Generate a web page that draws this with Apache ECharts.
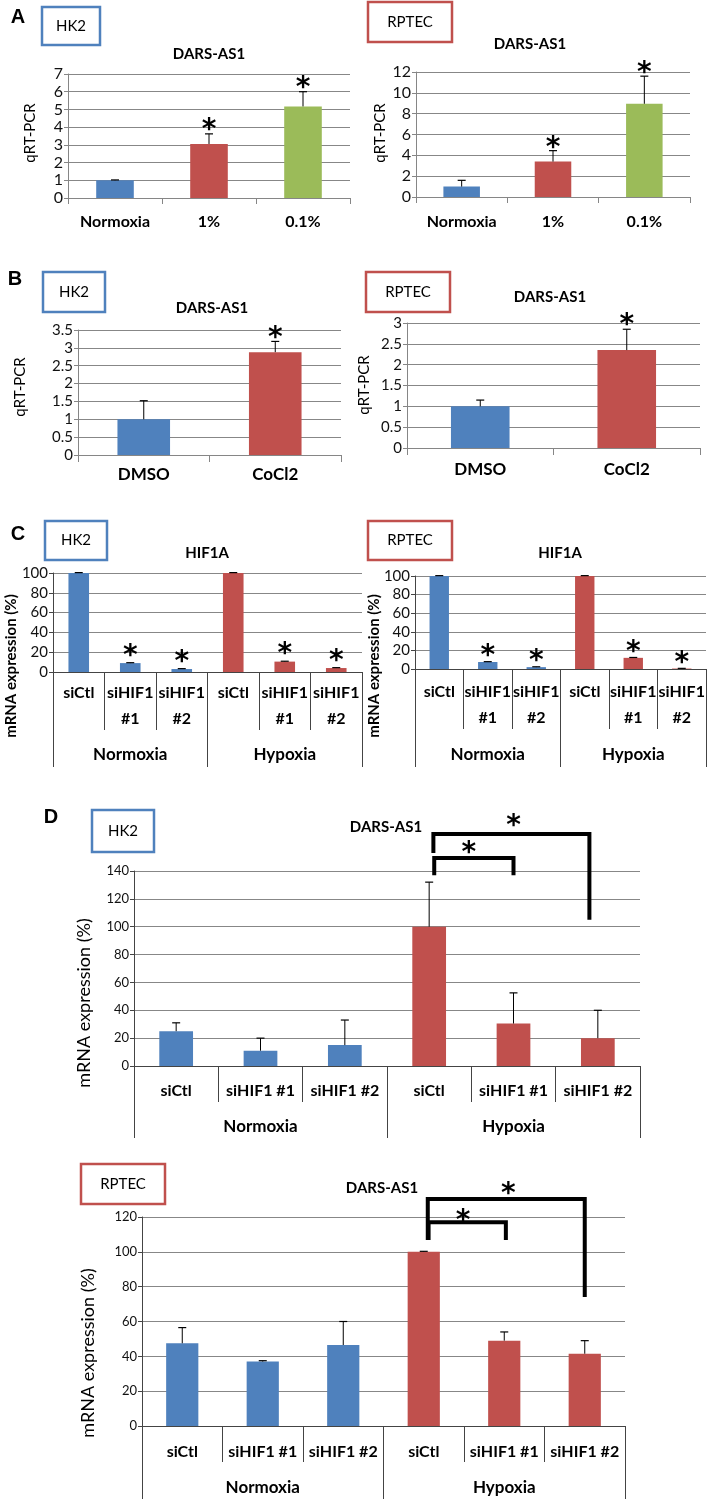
<!DOCTYPE html>
<html><head><meta charset="utf-8">
<script src="https://cdn.jsdelivr.net/npm/echarts@6/dist/echarts.min.js"></script>
<style>html,body{margin:0;padding:0;background:#fff}#c{width:709px;height:1499px}</style>
</head><body><div id="c"></div>
<script>
// ---------------- DATA ----------------
const catsA = ['Normoxia', '1%', '0.1%'];
const hk2A = [1.0, 3.05, 5.17];
const hk2A_sd = [0.02, 0.57, 0.83];
const rptecA = [1.0, 3.4, 8.95];
const rptecA_sd = [0.6, 1.05, 2.65];
const sigA = [false, true, true];

const catsB = ['DMSO', 'CoCl2'];
const hk2B = [1.0, 2.88];
const hk2B_sd = [0.52, 0.3];
const rptecB = [1.0, 2.35];
const rptecB_sd = [0.15, 0.5];
const sigB = [false, true];

const catsC = ['siCtl', 'siHIF1\n#1', 'siHIF1\n#2', 'siCtl', 'siHIF1\n#1', 'siHIF1\n#2'];
const groups = ['Normoxia', 'Hypoxia'];
const hk2C = [100, 9, 3, 100, 10.5, 4];
const hk2C_sd = [0.4, 0.4, 0.4, 0.4, 0.4, 0.4];
const rptecC = [100, 7.5, 2, 100, 12, 0.5];
const rptecC_sd = [0.4, 0.4, 0.4, 0.4, 0.4, 0.2];
const sigC = [false, true, true, false, true, true];

const catsD = ['siCtl', 'siHIF1 #1', 'siHIF1 #2', 'siCtl', 'siHIF1 #1', 'siHIF1 #2'];
const hk2D = [25, 11, 15, 100, 30.5, 20];
const hk2D_sd = [6, 9, 18, 32, 22, 20];
const rptecD = [47.5, 37, 46.5, 100, 49, 41.5];
const rptecD_sd = [9, 0.5, 13.5, 0.3, 5, 7.5];
const compD = [[3, 4], [3, 5]]; // significant comparisons (category index pairs)

// ---------------- STYLE / LAYOUT ----------------
const BLUE = '#4F81BD', RED = '#C0504D', GREEN = '#9BBB59';
const FONT = 'Lato, "Open Sans", sans-serif';
const STARFONT = '"DejaVu Sans", sans-serif';
const GRID_COLOR = '#878787';

// bracket geometry (value units, category offsets as fraction of band)
const bracketGeomHK2 = [
  {dxL: 0.06, dxR: 0, yL: 137, yTop: 149.3, yR: 137, star: [3, 0.47, 157.2]},
  {dxL: 0.05, dxR: -0.1, yL: 153, yTop: 166.5, yR: 105, star: [4, 0, 176.6]}
];
const bracketGeomRPTEC = [
  {dxL: 0.06, dxR: 0.02, yL: 106.8, yTop: 117, yR: 106.8, star: [3, 0.49, 121.1]},
  {dxL: 0.05, dxR: 0, yL: 106.8, yTop: 130.3, yR: 74, star: [4, 0.05, 136.6]}
];

const option = {animation: false, grid: [], xAxis: [], yAxis: [], series: [], graphic: []};

function starText(x, y) {
  return {type: 'text', x: x, y: y + 7, style: {text: '*', fontFamily: STARFONT, fontWeight: 'bold', fontSize: 28, fill: '#000', textAlign: 'center', textVerticalAlign: 'middle'}};
}

function addPanel(p) {
  const gi = option.grid.length;
  option.grid.push(Object.assign({containLabel: false}, p.grid));
  const xi = option.xAxis.length;
  option.xAxis.push({
    type: 'category', gridIndex: gi, data: p.cats, position: 'bottom',
    axisLine: {lineStyle: {color: p.axisColor, width: 1}},
    axisTick: {show: true, length: p.tickLen, lineStyle: {color: p.axisColor}},
    axisLabel: {interval: 0, margin: p.labelMargin, fontFamily: FONT, fontWeight: 'bold', fontSize: p.catFont, color: '#000', lineHeight: p.catLineHeight || 20}
  });
  if (p.groups) {
    option.xAxis.push({
      type: 'category', gridIndex: gi, data: p.groups, position: 'bottom',
      axisLine: {show: false},
      axisTick: {show: true, length: p.groupTickLen, lineStyle: {color: p.axisColor}},
      axisLabel: {interval: 0, margin: p.groupMargin, fontFamily: FONT, fontWeight: 'bold', fontSize: 17, color: '#000', lineHeight: 20}
    });
  }
  const yi = option.yAxis.length;
  option.yAxis.push({
    type: 'value', gridIndex: gi, min: 0, max: p.max, interval: p.interval,
    axisLine: {show: true, lineStyle: {color: p.yAxisColor || '#868686'}},
    axisTick: {show: true, length: 4, lineStyle: {color: p.yAxisColor || '#868686'}},
    splitLine: {show: true, lineStyle: {color: GRID_COLOR, width: 1}},
    axisLabel: {margin: 5, fontFamily: FONT, fontSize: p.tickFont, color: '#111'}
  });
  option.series.push({
    type: 'bar', xAxisIndex: xi, yAxisIndex: yi, barWidth: '40%',
    data: p.values.map((v, i) => ({value: v, itemStyle: {color: p.colors[i]}}))
  });
  // error bars (upper only)
  option.series.push({
    type: 'custom', xAxisIndex: xi, yAxisIndex: yi, clip: false, z: 5,
    encode: {x: 0, y: [1, 2]},
    data: p.values.map((v, i) => [i, v, v + p.sd[i]]),
    renderItem: function (params, api) {
      const b = api.coord([api.value(0), api.value(1)]);
      const t = api.coord([api.value(0), api.value(2)]);
      return {type: 'group', children: [
        {type: 'line', shape: {x1: b[0], y1: b[1], x2: t[0], y2: t[1]}, style: {stroke: '#000', lineWidth: 1}},
        {type: 'line', shape: {x1: t[0] - 4, y1: t[1], x2: t[0] + 4, y2: t[1]}, style: {stroke: '#000', lineWidth: 1.2}}
      ]};
    }
  });
  // significance stars
  if (p.sig) {
    const starData = [];
    p.values.forEach((v, i) => { if (p.sig[i]) starData.push([i, v + p.sd[i]]); });
    option.series.push({
      type: 'custom', xAxisIndex: xi, yAxisIndex: yi, clip: false, z: 6,
      encode: {x: 0, y: 1}, data: starData,
      renderItem: function (params, api) {
        const c = api.coord([api.value(0), api.value(1)]);
        return starText(c[0], c[1] - p.starGap);
      }
    });
  }
  // brackets
  if (p.brackets) {
    option.series.push({
      type: 'custom', xAxisIndex: xi, yAxisIndex: yi, clip: false, z: 6,
      encode: {x: 0, y: 1},
      data: p.comps.map(c => [c[0], p.values[c[0]]]),
      renderItem: function (params, api) {
        const comp = p.comps[params.dataIndex];
        const g = p.brackets[params.dataIndex];
        const bw = api.size([1, 0])[0];
        const xl = api.coord([comp[0], 0])[0] + g.dxL * bw;
        const xr = api.coord([comp[1], 0])[0] + g.dxR * bw;
        const yl = api.coord([comp[0], g.yL])[1];
        const yt = api.coord([comp[0], g.yTop])[1];
        const yr = api.coord([comp[1], g.yR])[1];
        const sx = api.coord([g.star[0], 0])[0] + g.star[1] * bw;
        const sy = api.coord([g.star[0], g.star[2]])[1];
        return {type: 'group', children: [
          {type: 'polyline', shape: {points: [[xl, yl], [xl, yt], [xr, yt], [xr, yr]]}, style: {stroke: '#000', lineWidth: 4, fill: null, lineJoin: 'miter'}},
          starText(sx, sy)
        ]};
      }
    });
  }
}

// Panel A
addPanel({grid: {left: 68, top: 74, width: 282, height: 124}, cats: catsA, values: hk2A, sd: hk2A_sd, sig: sigA,
  colors: [BLUE, RED, GREEN], max: 7, interval: 1, axisColor: '#868686', tickLen: 6, labelMargin: 14, catFont: 16, tickFont: 16, starGap: 10});
addPanel({grid: {left: 416, top: 72, width: 274, height: 125}, cats: catsA, values: rptecA, sd: rptecA_sd, sig: sigA,
  colors: [BLUE, RED, GREEN], max: 12, interval: 2, axisColor: '#868686', tickLen: 6, labelMargin: 15, catFont: 16, tickFont: 16, starGap: 9});
// Panel B
addPanel({grid: {left: 78, top: 330, width: 263, height: 125}, cats: catsB, values: hk2B, sd: hk2B_sd, sig: sigB,
  colors: [BLUE, RED], max: 3.5, interval: 0.5, axisColor: '#868686', tickLen: 7, labelMargin: 10, catFont: 17, tickFont: 15, starGap: 10});
addPanel({grid: {left: 407, top: 323, width: 293, height: 125}, cats: catsB, values: rptecB, sd: rptecB_sd, sig: sigB,
  colors: [BLUE, RED], max: 3, interval: 0.5, axisColor: '#868686', tickLen: 7, labelMargin: 12, catFont: 17, tickFont: 15, starGap: 11});
// Panel C
const cColors = [BLUE, BLUE, BLUE, RED, RED, RED];
addPanel({grid: {left: 53, top: 573, width: 309, height: 99}, cats: catsC, values: hk2C, sd: hk2C_sd, sig: sigC, groups: groups,
  colors: cColors, max: 100, interval: 20, axisColor: '#444', yAxisColor: '#444', tickLen: 58, labelMargin: 8, catLineHeight: 26, catFont: 16,
  groupTickLen: 95, groupMargin: 73, tickFont: 15, starGap: 13});
addPanel({grid: {left: 415, top: 576, width: 291, height: 93}, cats: catsC, values: rptecC, sd: rptecC_sd, sig: sigC, groups: groups,
  colors: cColors, max: 100, interval: 20, axisColor: '#444', yAxisColor: '#444', tickLen: 60, labelMargin: 10, catLineHeight: 26, catFont: 16,
  groupTickLen: 98, groupMargin: 76, tickFont: 15, starGap: 12});
// Panel D
addPanel({grid: {left: 134, top: 871, width: 506, height: 195}, cats: catsD, values: hk2D, sd: hk2D_sd, groups: groups,
  colors: cColors, max: 140, interval: 20, axisColor: '#444', yAxisColor: '#444', tickLen: 36, labelMargin: 15, catFont: 16,
  groupTickLen: 72, groupMargin: 51, tickFont: 13, comps: compD, brackets: bracketGeomHK2});
addPanel({grid: {left: 142, top: 1217, width: 483, height: 209}, cats: catsD, values: rptecD, sd: rptecD_sd, groups: groups,
  colors: cColors, max: 120, interval: 20, axisColor: '#444', yAxisColor: '#444', tickLen: 36, labelMargin: 16, catFont: 16,
  groupTickLen: 75, groupMargin: 52, tickFont: 13, comps: compD, brackets: bracketGeomRPTEC});

// ---------------- ANNOTATIONS ----------------
function txt(t, x, y, size, weight, rot, fam) {
  return {type: 'text', x: x, y: y, rotation: rot || 0, z: 10,
    style: {text: t, fontFamily: fam || FONT, fontSize: size, fontWeight: weight || 'normal', fill: '#000', textAlign: 'center', textVerticalAlign: 'middle'}};
}
function box(label, x, y, w, h, color) {
  return [
    {type: 'rect', z: 9, shape: {x: x, y: y, width: w, height: h}, style: {fill: '#fff', stroke: color, lineWidth: 2.5}},
    txt(label, x + w / 2, y + h / 2, 15)
  ];
}
const LET = '"Liberation Sans", Arial, sans-serif';
option.graphic = [].concat(
  txt('A', 18, 17, 20, 'bold', 0, LET),
  txt('B', 15, 279, 20, 'bold', 0, LET),
  txt('C', 18, 534, 20, 'bold', 0, LET),
  txt('D', 51, 817, 20, 'bold', 0, LET),
  box('HK2', 42, 7, 58, 38, BLUE), box('RPTEC', 368, 2, 84, 40, RED),
  box('HK2', 43, 272, 62, 40, BLUE), box('RPTEC', 366, 272, 84, 40, RED),
  box('HK2', 45, 521, 62, 39, BLUE), box('RPTEC', 368, 521, 84, 39, RED),
  box('HK2', 92, 810, 62, 42, BLUE), box('RPTEC', 81, 1164, 84, 40, RED),
  txt('DARS-AS1', 209, 54, 15, 'bold'), txt('DARS-AS1', 530, 44, 15, 'bold'),
  txt('DARS-AS1', 212, 308, 15, 'bold'), txt('DARS-AS1', 550, 297, 15, 'bold'),
  txt('HIF1A', 207, 553, 15, 'bold'), txt('HIF1A', 560, 553, 15, 'bold'),
  txt('DARS-AS1', 386, 827, 15, 'bold'), txt('DARS-AS1', 382, 1188, 15, 'bold'),
  txt('qRT-PCR', 30, 133, 15, 'normal', Math.PI / 2), txt('qRT-PCR', 380, 133, 15, 'normal', Math.PI / 2),
  txt('qRT-PCR', 20, 387, 15, 'normal', Math.PI / 2), txt('qRT-PCR', 364, 385, 15, 'normal', Math.PI / 2),
  txt('mRNA expression (%)', 11, 666, 15, 'bold', Math.PI / 2), txt('mRNA expression (%)', 374, 666, 15, 'bold', Math.PI / 2),
  txt('mRNA expression (%)', 84, 1003, 18, 'normal', Math.PI / 2), txt('mRNA expression (%)', 88, 1353, 18, 'normal', Math.PI / 2)
);

const chart = echarts.init(document.getElementById('c'), null, {renderer: 'canvas'});
chart.setOption(option);
</script>
</body></html>
